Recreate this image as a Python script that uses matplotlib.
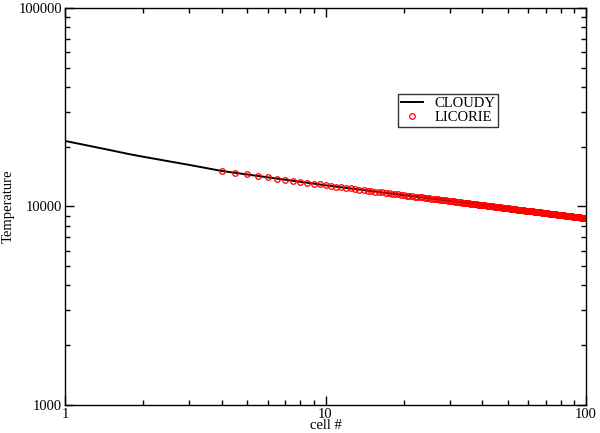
import numpy as np
import matplotlib
matplotlib.use("Agg")
import matplotlib.pyplot as plt
from matplotlib.ticker import LogLocator, NullFormatter

plt.rcParams['font.family'] = ['Liberation Serif', 'DejaVu Serif']

# CLOUDY temperature profile
cloudy_cell = [1, 1.5, 1.75, 2, 3, 4, 5, 6, 8, 10, 15, 20, 30, 40, 50, 60, 80, 100]
cloudy_temp = [21400, 19200, 18400, 17800, 16200, 15100, 14500, 14030, 13320, 12790,
               11960, 11400, 10660, 10160, 9790, 9500, 9060, 8730]

# LICORIE cells: every half cell from 4 to 100
licorie_cell = np.arange(4, 100.5, 0.5)
licorie_temp = [
    15100, 14780, 14500, 14256, 14030, 13830, 13646, 13480, 13320, 13176, 13040, 12912,
    12794, 12694, 12594, 12504, 12414, 12332, 12250, 12175, 12100, 12031, 11962, 11898,
    11835, 11775, 11716, 11660, 11606, 11554, 11502, 11453, 11404, 11357, 11311, 11267,
    11224, 11183, 11142, 11102, 11063, 11025, 10988, 10952, 10917, 10883, 10849, 10816,
    10784, 10752, 10721, 10691, 10661, 10632, 10603, 10575, 10548, 10521, 10494, 10468,
    10442, 10417, 10392, 10367, 10343, 10319, 10296, 10273, 10251, 10229, 10207, 10185,
    10164, 10143, 10122, 10102, 10082, 10062, 10042, 10023, 10004, 9985, 9967, 9949,
    9931, 9913, 9895, 9878, 9861, 9844, 9827, 9810, 9794, 9778, 9762, 9746,
    9731, 9715, 9700, 9685, 9670, 9655, 9640, 9626, 9612, 9598, 9584, 9570,
    9556, 9542, 9529, 9515, 9502, 9489, 9476, 9463, 9451, 9438, 9426, 9413,
    9401, 9389, 9377, 9365, 9353, 9341, 9330, 9318, 9307, 9295, 9284, 9273,
    9262, 9251, 9240, 9229, 9219, 9208, 9198, 9187, 9177, 9167, 9157, 9147,
    9137, 9127, 9117, 9107, 9097, 9087, 9078, 9068, 9059, 9049, 9040, 9031,
    9022, 9013, 9004, 8995, 8986, 8977, 8968, 8960, 8951, 8942, 8934, 8925,
    8917, 8908, 8900, 8892, 8884, 8876, 8868, 8860, 8852, 8844, 8836, 8828,
    8820, 8812, 8805, 8797, 8789, 8782, 8774, 8766, 8759, 8752, 8744, 8737,
    8730,
]

x_ticks = [1, 10, 100]
x_ticklabels = ['1', '10', '100']
y_ticks = [1000, 10000, 100000]
y_ticklabels = ['1000', '10000', '100000']

fig = plt.figure(figsize=(6.0, 4.33), dpi=100)
ax = fig.add_axes([0.1083, 0.0647, 0.8684, 0.9168])

ax.plot(cloudy_cell, cloudy_temp, color='black', lw=1.4, label='CLOUDY')
ax.plot(licorie_cell, licorie_temp, ls='none', marker='o', ms=4.0,
        mfc='none', mec='red', mew=0.9, label='LICORIE')

ax.set_xscale('log')
ax.set_yscale('log')
ax.set_xlim(1, 100)
ax.set_ylim(1000, 100000)

ax.set_xticks(x_ticks)
ax.set_xticklabels(x_ticklabels)
ax.set_yticks(y_ticks)
ax.set_yticklabels(y_ticklabels)
ax.xaxis.set_minor_locator(LogLocator(base=10, subs=np.arange(2, 10)))
ax.yaxis.set_minor_locator(LogLocator(base=10, subs=np.arange(2, 10)))
ax.xaxis.set_minor_formatter(NullFormatter())
ax.yaxis.set_minor_formatter(NullFormatter())

ax.tick_params(which='both', direction='in', top=True, right=True,
               labelsize=10.5, width=1.0)
ax.tick_params(which='major', length=6.5, pad=2)
ax.tick_params(which='minor', length=3.5)
for s in ax.spines.values():
    s.set_linewidth(1.0)

ax.set_xlabel('cell #', fontsize=10.5)
ax.set_ylabel('Temperature', fontsize=10.5)
ax.xaxis.set_label_coords(0.5, -0.036)
ax.yaxis.set_label_coords(-0.096, 0.5)

leg = ax.legend(loc='upper left', bbox_to_anchor=(0.639, 0.783), fontsize=10.5,
                frameon=True, fancybox=False, edgecolor='black',
                handlelength=1.5, borderpad=0.2, labelspacing=0.05,
                handletextpad=0.8, borderaxespad=0)
leg.get_frame().set_linewidth(1.0)

fig.savefig('out.png', dpi=100)
